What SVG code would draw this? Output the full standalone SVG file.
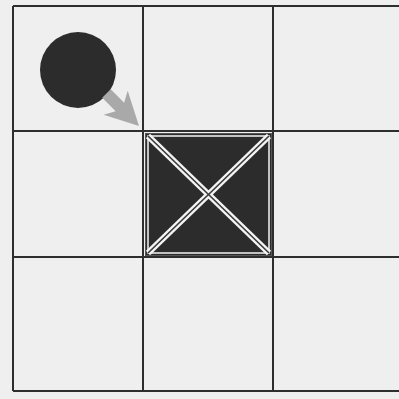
<svg xmlns="http://www.w3.org/2000/svg" width="399" height="399" viewBox="0 0 399 399">
<style>
.grid{stroke:#2e2e2e;stroke-width:2;fill:none}
.diagW{stroke:#f4f4f4;stroke-width:6;stroke-linecap:butt}
.diagD{stroke:#3a3a3a;stroke-width:1.6}
</style>
<rect x="0" y="0" width="399" height="399" fill="#efefef"/>
<g id="grid" class="grid">
<line x1="13" y1="6" x2="399" y2="6"/>
<line x1="13" y1="131" x2="399" y2="131"/>
<line x1="13" y1="257" x2="399" y2="257"/>
<line x1="13" y1="391" x2="399" y2="391"/>
<line x1="13" y1="6" x2="13" y2="391"/>
<line x1="143" y1="6" x2="143" y2="391"/>
<line x1="273" y1="6" x2="273" y2="391"/>
</g>
<g id="block">
<rect x="145.5" y="133.5" width="126" height="122" fill="#2c2c2c" stroke="#555" stroke-width="1"/>
<rect x="148" y="136" width="121" height="117" fill="none" stroke="#f4f4f4" stroke-width="1.5"/>
<line class="diagW" x1="148" y1="136" x2="269" y2="253"/>
<line class="diagW" x1="269" y1="136" x2="148" y2="253"/>
<line class="diagD" x1="148" y1="136" x2="269" y2="253"/>
<line class="diagD" x1="269" y1="136" x2="148" y2="253"/>
</g>
<g id="ball">
<circle cx="78" cy="70" r="38" fill="#2c2c2c"/>
</g>
<g id="connectors">
<g transform="translate(139,126) rotate(45)">
<polygon points="0,0 -33,-17 -27,-6 -46,-6 -46,6 -27,6 -33,17" fill="#a9a9a9"/>
</g>
</g>
</svg>
